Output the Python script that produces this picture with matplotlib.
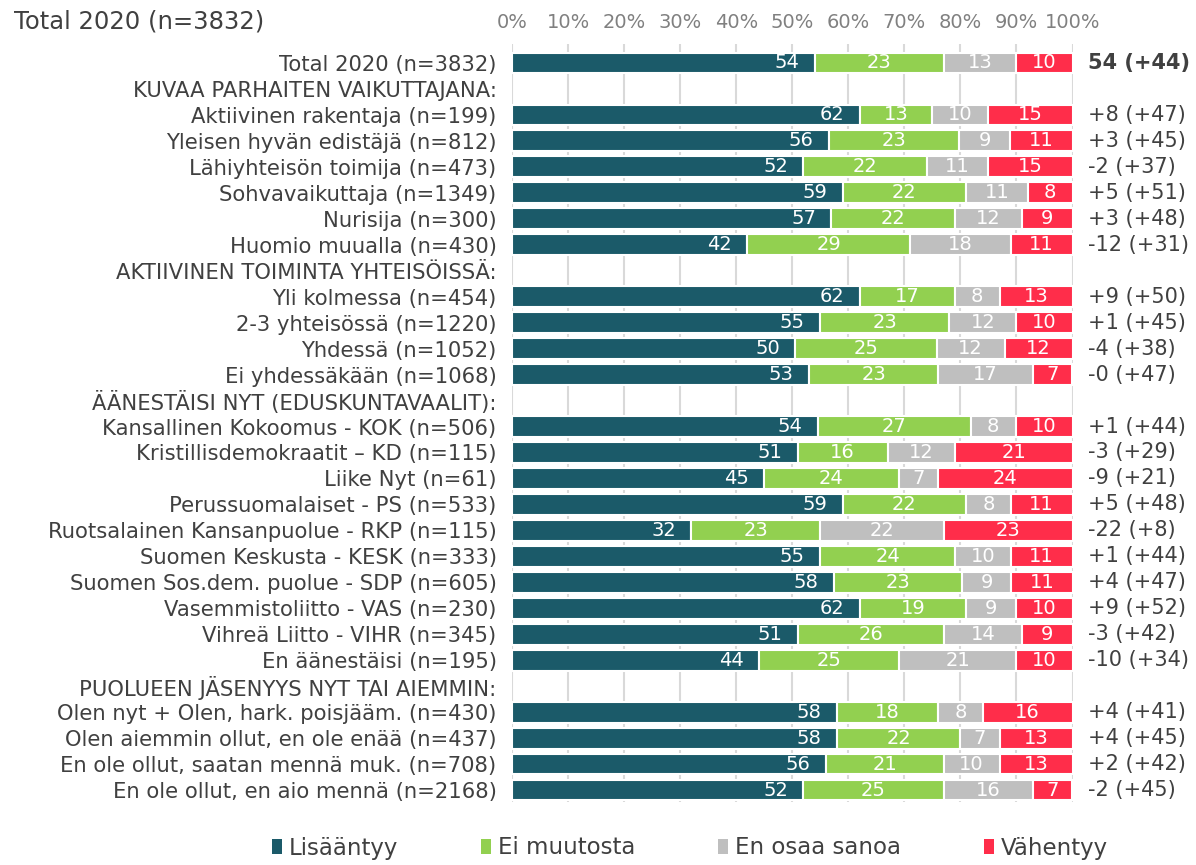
import matplotlib
matplotlib.use("Agg")
import matplotlib.pyplot as plt
from matplotlib import font_manager
from matplotlib.patches import Patch
import numpy as np

# fonts: Verdana-like for row labels, a narrow face for the rest
available = {f.name for f in font_manager.fontManager.ttflist}
NARROW = "Liberation Sans Narrow" if "Liberation Sans Narrow" in available else "DejaVu Sans"
WIDE = "DejaVu Sans"

labels = [
    "Total 2020 (n=3832)",
    "KUVAA PARHAITEN VAIKUTTAJANA:",
    "Aktiivinen rakentaja (n=199)",
    "Yleisen hyvän edistäjä (n=812)",
    "Lähiyhteisön toimija (n=473)",
    "Sohvavaikuttaja (n=1349)",
    "Nurisija (n=300)",
    "Huomio muualla (n=430)",
    "AKTIIVINEN TOIMINTA YHTEISÖISSÄ:",
    "Yli kolmessa (n=454)",
    "2-3 yhteisössä (n=1220)",
    "Yhdessä (n=1052)",
    "Ei yhdessäkään (n=1068)",
    "ÄÄNESTÄISI NYT (EDUSKUNTAVAALIT):",
    "Kansallinen Kokoomus - KOK (n=506)",
    "Kristillisdemokraatit – KD (n=115)",
    "Liike Nyt (n=61)",
    "Perussuomalaiset - PS (n=533)",
    "Ruotsalainen Kansanpuolue - RKP (n=115)",
    "Suomen Keskusta - KESK (n=333)",
    "Suomen Sos.dem. puolue - SDP (n=605)",
    "Vasemmistoliitto - VAS (n=230)",
    "Vihreä Liitto - VIHR (n=345)",
    "En äänestäisi (n=195)",
    "PUOLUEEN JÄSENYYS NYT TAI AIEMMIN:",
    "Olen nyt + Olen, hark. poisjääm. (n=430)",
    "Olen aiemmin ollut, en ole enää (n=437)",
    "En ole ollut, saatan mennä muk. (n=708)",
    "En ole ollut, en aio mennä (n=2168)",
]

# None = section header row (no bar)
lisaantyy = [54, None, 62, 56, 52, 59, 57, 42, None, 62, 55, 50, 53, None,
             54, 51, 45, 59, 32, 55, 58, 62, 51, 44, None, 58, 58, 56, 52]
ei_muutosta = [23, None, 13, 23, 22, 22, 22, 29, None, 17, 23, 25, 23, None,
               27, 16, 24, 22, 23, 24, 23, 19, 26, 25, None, 18, 22, 21, 25]
en_osaa = [13, None, 10, 9, 11, 11, 12, 18, None, 8, 12, 12, 17, None,
           8, 12, 7, 8, 22, 10, 9, 9, 14, 21, None, 8, 7, 10, 16]
vahentyy = [10, None, 15, 11, 15, 8, 9, 11, None, 13, 10, 12, 7, None,
            10, 21, 24, 11, 23, 11, 11, 10, 9, 10, None, 16, 13, 13, 7]

right_labels = ["54 (+44)", "", "+8 (+47)", "+3 (+45)", "-2 (+37)", "+5 (+51)",
                "+3 (+48)", "-12 (+31)", "", "+9 (+50)", "+1 (+45)", "-4 (+38)",
                "-0 (+47)", "", "+1 (+44)", "-3 (+29)", "-9 (+21)", "+5 (+48)",
                "-22 (+8)", "+1 (+44)", "+4 (+47)", "+9 (+52)", "-3 (+42)",
                "-10 (+34)", "", "+4 (+41)", "+4 (+45)", "+2 (+42)", "-2 (+45)"]

series_names = ["Lisääntyy", "Ei muutosta", "En osaa sanoa", "Vähentyy"]
colors = ["#1B5A69", "#92D050", "#BFBFBF", "#FF2D4A"]
TEXT = "#404040"

fig = plt.figure(figsize=(11.96, 8.65), dpi=100)
ax = fig.add_axes([512 / 1196, 1 - 802 / 865, 560.5 / 1196, 758 / 865])

y = np.arange(len(labels))
series = [lisaantyy, ei_muutosta, en_osaa, vahentyy]

for i in y:
    if lisaantyy[i] is None:
        continue
    vals = np.array([s[i] for s in series], dtype=float)
    widths = vals / vals.sum() * 100
    left = 0.0
    for k, (w, v) in enumerate(zip(widths, vals)):
        ax.barh(i, w, left=left, height=0.8, color=colors[k],
                edgecolor="white", linewidth=1.5, zorder=2)
        if k == 0:
            ax.annotate(f"{v:.0f}", (left + w, i), xytext=(-11, 0),
                        textcoords="offset points", ha="right", va="center",
                        color="white", fontsize=14, family=NARROW, zorder=3)
        else:
            ax.text(left + w / 2, i, f"{v:.0f}", ha="center", va="center",
                    color="white", fontsize=14, family=NARROW, zorder=3)
        left += w
    ax.text(1.0285, i, right_labels[i], transform=ax.get_yaxis_transform(),
            ha="left", va="center", fontsize=15, family=WIDE, color=TEXT,
            fontweight="bold" if i == 0 else "normal")

ax.set_xlim(0, 100)
ax.set_ylim(28.46, -0.73)
ax.set_xticks(np.arange(0, 101, 10))
ax.set_xticklabels([f"{t}%" for t in range(0, 101, 10)])
ax.xaxis.tick_top()
ax.tick_params(axis="x", length=0, pad=9, labelsize=14, labelcolor="#808080")
for lab in ax.get_xticklabels():
    lab.set_family(NARROW)
ax.grid(axis="x", color="#D9D9D9", linewidth=1.5, zorder=0)
ax.set_axisbelow(True)

ax.set_yticks(y)
ax.set_yticklabels(labels)
ax.tick_params(axis="y", length=0, pad=11, labelsize=15.2, labelcolor=TEXT)
for sp in ax.spines.values():
    sp.set_visible(False)

fig.text(14 / 1196, 1 - 21 / 865, "Total 2020 (n=3832)", ha="left", va="center",
         fontsize=17.5, family=NARROW, color=TEXT)

handles = [Patch(facecolor=c, edgecolor="none") for c in colors]
fig.legend(handles, series_names, loc="center", bbox_to_anchor=(0.577, 1 - 848 / 865),
           ncol=4, frameon=False, prop={"family": NARROW, "size": 16.5},
           handlelength=0.45, handleheight=0.6, handletextpad=0.3,
           columnspacing=3.6, labelcolor=TEXT)

fig.savefig("out.png", dpi=100)
